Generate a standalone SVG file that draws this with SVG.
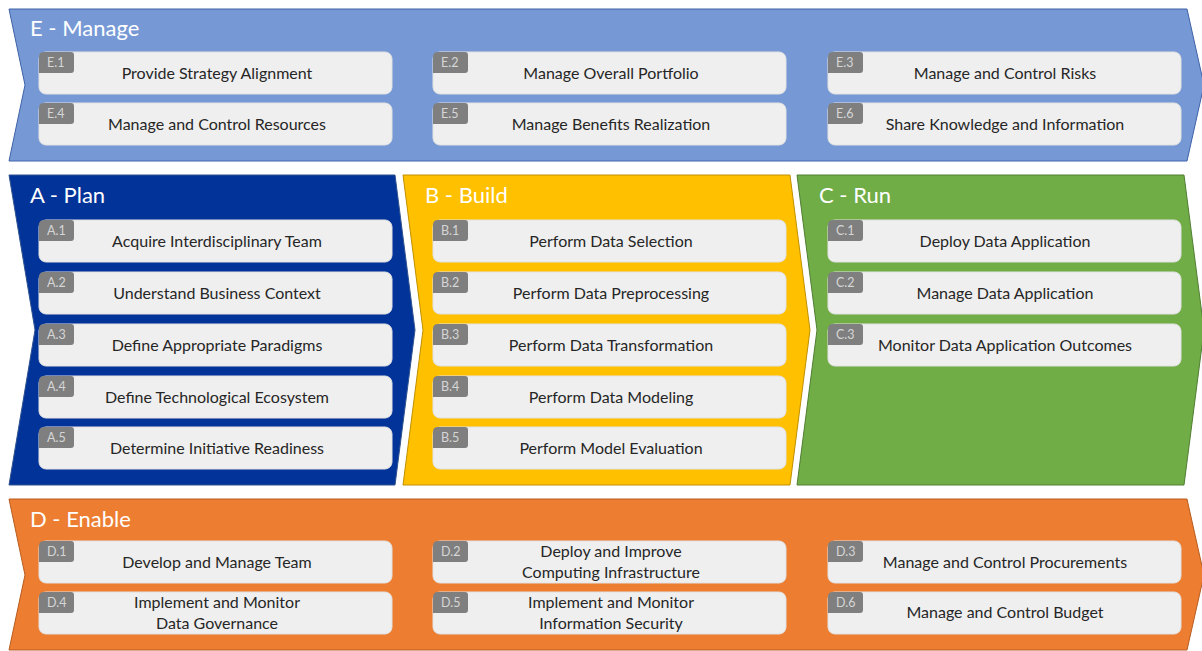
<svg xmlns="http://www.w3.org/2000/svg" width="1202" height="651" viewBox="0 0 1202 651">
  <style>
    .title { font-family: Lato, "Open Sans", "Liberation Sans", sans-serif; font-size: 22px; fill: #ffffff; }
    .card { fill: #efefef; stroke: #e2e2e2; stroke-width: 1; }
    .badge { fill: #7f7f7f; }
    .code { font-family: Lato, "Open Sans", "Liberation Sans", sans-serif; font-size: 12.5px; fill: #d6d6d6; }
    .label { font-family: Lato, "Open Sans", "Liberation Sans", sans-serif; font-size: 16px; fill: #262626; text-anchor: middle; }
  </style>
  <defs>
    <!-- one process card: body plus id badge, 353 x 42 -->
    <g id="cardShape">
      <rect class="card" x="0" y="0" width="353" height="42" rx="7" ry="7"/>
      <path class="badge" d="M0,21 V5 Q0,0 5,0 H32 Q35,0 35,3 V18 Q35,21 32,21 Z"/>
    </g>
  </defs>

  <rect width="1202" height="651" fill="#ffffff"/>

  <!-- E - Manage band -->
  <g id="E">
    <polygon points="9,9 1187,9 1204,85 1187,161 9,161 25,85" fill="#7699d5" stroke="#3f62a8" stroke-width="1"/>
    <text class="title" x="30" y="36">E - Manage</text>
    <g id="E1"><use href="#cardShape" x="39" y="52"/><text class="code" x="47" y="67">E.1</text><text class="label" x="217" y="79">Provide Strategy Alignment</text></g>
    <g id="E2"><use href="#cardShape" x="433" y="52"/><text class="code" x="441" y="67">E.2</text><text class="label" x="611" y="79">Manage Overall Portfolio</text></g>
    <g id="E3"><use href="#cardShape" x="828" y="52"/><text class="code" x="836" y="67">E.3</text><text class="label" x="1005" y="79">Manage and Control Risks</text></g>
    <g id="E4"><use href="#cardShape" x="39" y="103"/><text class="code" x="47" y="118">E.4</text><text class="label" x="217" y="130">Manage and Control Resources</text></g>
    <g id="E5"><use href="#cardShape" x="433" y="103"/><text class="code" x="441" y="118">E.5</text><text class="label" x="611" y="130">Manage Benefits Realization</text></g>
    <g id="E6"><use href="#cardShape" x="828" y="103"/><text class="code" x="836" y="118">E.6</text><text class="label" x="1005" y="130">Share Knowledge and Information</text></g>
  </g>

  <!-- A - Plan chevron -->
  <g id="A">
    <polygon points="9,175 395,175 415,330 395,485 9,485 35,330" fill="#023399" stroke="#2f528f" stroke-width="1"/>
    <text class="title" x="30" y="203">A - Plan</text>
    <g id="A1"><use href="#cardShape" x="39" y="220"/><text class="code" x="47" y="235">A.1</text><text class="label" x="217" y="247">Acquire Interdisciplinary Team</text></g>
    <g id="A2"><use href="#cardShape" x="39" y="272"/><text class="code" x="47" y="287">A.2</text><text class="label" x="217" y="299">Understand Business Context</text></g>
    <g id="A3"><use href="#cardShape" x="39" y="324"/><text class="code" x="47" y="339">A.3</text><text class="label" x="217" y="351">Define Appropriate Paradigms</text></g>
    <g id="A4"><use href="#cardShape" x="39" y="376"/><text class="code" x="47" y="391">A.4</text><text class="label" x="217" y="403">Define Technological Ecosystem</text></g>
    <g id="A5"><use href="#cardShape" x="39" y="427"/><text class="code" x="47" y="442">A.5</text><text class="label" x="217" y="454">Determine Initiative Readiness</text></g>
  </g>

  <!-- B - Build chevron -->
  <g id="B">
    <polygon points="403,175 790,175 810,330 790,485 403,485 423,330" fill="#ffc000" stroke="#c09000" stroke-width="1"/>
    <text class="title" x="425" y="203">B - Build</text>
    <g id="B1"><use href="#cardShape" x="433" y="220"/><text class="code" x="441" y="235">B.1</text><text class="label" x="611" y="247">Perform Data Selection</text></g>
    <g id="B2"><use href="#cardShape" x="433" y="272"/><text class="code" x="441" y="287">B.2</text><text class="label" x="611" y="299">Perform Data Preprocessing</text></g>
    <g id="B3"><use href="#cardShape" x="433" y="324"/><text class="code" x="441" y="339">B.3</text><text class="label" x="611" y="351">Perform Data Transformation</text></g>
    <g id="B4"><use href="#cardShape" x="433" y="376"/><text class="code" x="441" y="391">B.4</text><text class="label" x="611" y="403">Perform Data Modeling</text></g>
    <g id="B5"><use href="#cardShape" x="433" y="427"/><text class="code" x="441" y="442">B.5</text><text class="label" x="611" y="454">Perform Model Evaluation</text></g>
  </g>

  <!-- C - Run chevron -->
  <g id="C">
    <polygon points="797,175 1184,175 1204,330 1184,485 797,485 817,330" fill="#70ad47" stroke="#507e32" stroke-width="1"/>
    <text class="title" x="819" y="203">C - Run</text>
    <g id="C1"><use href="#cardShape" x="828" y="220"/><text class="code" x="836" y="235">C.1</text><text class="label" x="1005" y="247">Deploy Data Application</text></g>
    <g id="C2"><use href="#cardShape" x="828" y="272"/><text class="code" x="836" y="287">C.2</text><text class="label" x="1005" y="299">Manage Data Application</text></g>
    <g id="C3"><use href="#cardShape" x="828" y="324"/><text class="code" x="836" y="339">C.3</text><text class="label" x="1005" y="351">Monitor Data Application Outcomes</text></g>
  </g>

  <!-- D - Enable band -->
  <g id="D">
    <polygon points="9,499 1187,499 1204,575 1187,650 9,650 25,575" fill="#ed7d31" stroke="#b75d20" stroke-width="1"/>
    <text class="title" x="30" y="527">D - Enable</text>
    <g id="D1"><use href="#cardShape" x="39" y="541"/><text class="code" x="47" y="556">D.1</text><text class="label" x="217" y="568">Develop and Manage Team</text></g>
    <g id="D2"><use href="#cardShape" x="433" y="541"/><text class="code" x="441" y="556">D.2</text><text class="label" x="611" y="557">Deploy and Improve</text><text class="label" x="611" y="578">Computing Infrastructure</text></g>
    <g id="D3"><use href="#cardShape" x="828" y="541"/><text class="code" x="836" y="556">D.3</text><text class="label" x="1005" y="568">Manage and Control Procurements</text></g>
    <g id="D4"><use href="#cardShape" x="39" y="592"/><text class="code" x="47" y="607">D.4</text><text class="label" x="217" y="608">Implement and Monitor</text><text class="label" x="217" y="629">Data Governance</text></g>
    <g id="D5"><use href="#cardShape" x="433" y="592"/><text class="code" x="441" y="607">D.5</text><text class="label" x="611" y="608">Implement and Monitor</text><text class="label" x="611" y="629">Information Security</text></g>
    <g id="D6"><use href="#cardShape" x="828" y="592"/><text class="code" x="836" y="607">D.6</text><text class="label" x="1005" y="618">Manage and Control Budget</text></g>
  </g>

  <!-- no connectors between stages -->
  <g id="connectors"/>
</svg>
